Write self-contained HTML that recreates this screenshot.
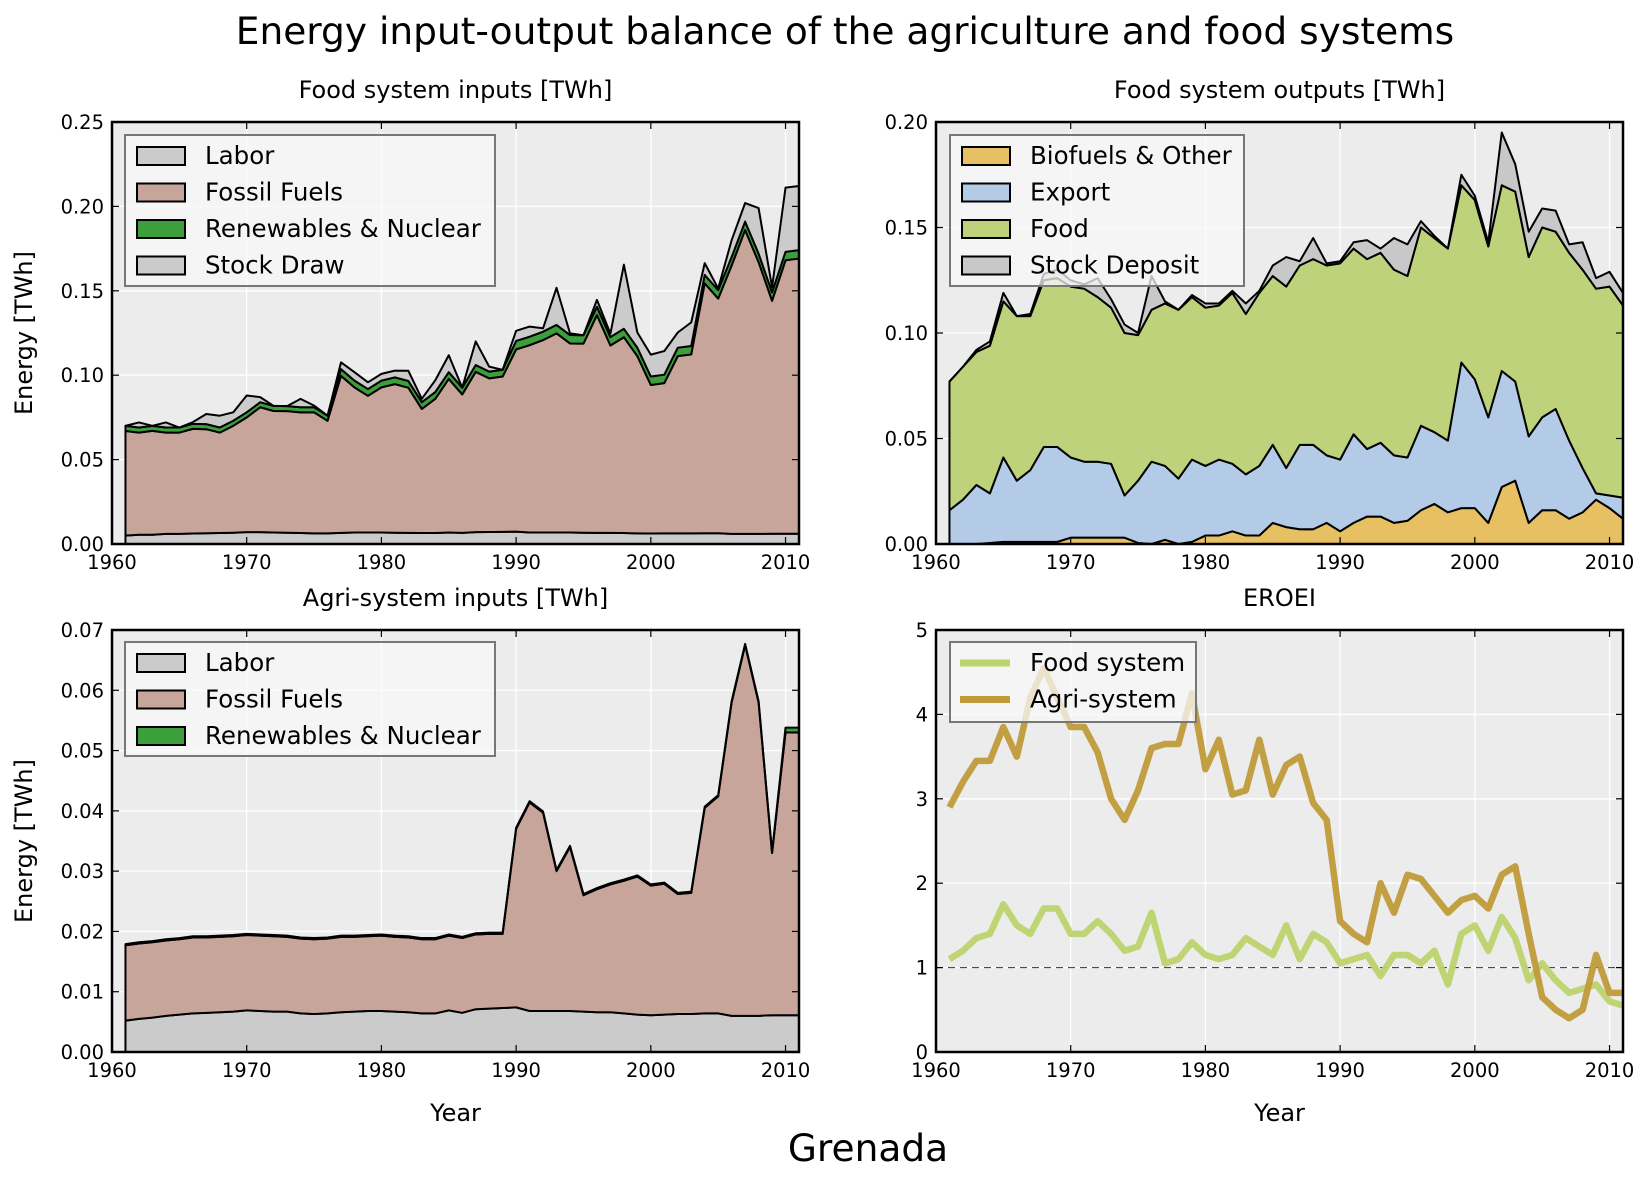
<!DOCTYPE html>
<html><head><meta charset="utf-8"><style>
body{margin:0;background:#fff;font-family:"Liberation Sans","DejaVu Sans",sans-serif}
svg{display:block}
text{font-family:"DejaVu Sans","Liberation Sans",sans-serif}
</style></head><body>
<svg id="c" width="1649" height="1181" viewBox="0 0 1649 1181" xmlns="http://www.w3.org/2000/svg">
<text x="845" y="44" text-anchor="middle" font-size="37.5">Energy input-output balance of the agriculture and food systems</text>
<text x="868" y="1161" text-anchor="middle" font-size="37.5">Grenada</text>
</svg>
<script>
const years=[];for(let y=1961;y<=2011;y++)years.push(y);
// Food system inputs
const fiLabor=[0.005,0.0055,0.0055,0.006,0.006,0.0062,0.0064,0.0065,0.0067,0.007,0.007,0.0068,0.0067,0.0065,0.0063,0.0063,0.0066,0.0068,0.0068,0.0068,0.0067,0.0066,0.0065,0.0065,0.0068,0.0066,0.007,0.0071,0.0072,0.0073,0.0068,0.0068,0.0068,0.0068,0.0067,0.0066,0.0066,0.0065,0.0063,0.0062,0.0063,0.0063,0.0063,0.0064,0.0064,0.006,0.006,0.006,0.0061,0.0061,0.0061];
const fiFossil=[0.062,0.0605,0.0615,0.060,0.060,0.062,0.0616,0.0595,0.0633,0.068,0.074,0.072,0.072,0.0715,0.0717,0.0667,0.093,0.086,0.081,0.086,0.088,0.086,0.0735,0.0795,0.091,0.082,0.095,0.091,0.092,0.108,0.111,0.114,0.118,0.112,0.112,0.129,0.111,0.116,0.105,0.088,0.089,0.105,0.106,0.148,0.139,0.159,0.180,0.161,0.138,0.162,0.163];
const fiRenew=[0.003,0.003,0.003,0.003,0.003,0.003,0.003,0.003,0.003,0.003,0.003,0.003,0.003,0.003,0.003,0.003,0.004,0.004,0.004,0.004,0.004,0.004,0.004,0.004,0.004,0.004,0.004,0.004,0.004,0.005,0.005,0.005,0.005,0.005,0.005,0.005,0.005,0.005,0.005,0.005,0.005,0.005,0.005,0.005,0.005,0.005,0.005,0.005,0.005,0.005,0.005];
const fiStock=[0,0.003,0,0.003,0,0.001,0.006,0.007,0.005,0.010,0.003,0,0,0.005,0.001,0,0.004,0.005,0.004,0.004,0.004,0.006,0.002,0.007,0.010,0,0.014,0.003,0,0.006,0.006,0.002,0.022,0.001,0,0.004,0.002,0.038,0.009,0.013,0.014,0.009,0.014,0.007,0.001,0.010,0.011,0.027,0.003,0.038,0.038];
// Food system outputs
const foBio=[0,0,0,0.0005,0.001,0.001,0.001,0.001,0.001,0.003,0.003,0.003,0.003,0.003,0.0005,0,0.002,0,0.001,0.004,0.004,0.006,0.004,0.004,0.010,0.008,0.007,0.007,0.010,0.006,0.010,0.013,0.013,0.010,0.011,0.016,0.019,0.015,0.017,0.017,0.010,0.027,0.030,0.010,0.016,0.016,0.012,0.015,0.021,0.017,0.012];
const foExport=[0.016,0.021,0.028,0.0235,0.040,0.029,0.034,0.045,0.045,0.038,0.036,0.036,0.035,0.020,0.0295,0.039,0.035,0.031,0.039,0.033,0.036,0.032,0.029,0.033,0.037,0.028,0.040,0.040,0.032,0.034,0.042,0.032,0.035,0.032,0.030,0.040,0.034,0.034,0.069,0.061,0.050,0.055,0.047,0.041,0.044,0.048,0.037,0.021,0.003,0.006,0.010];
const foFood=[0.061,0.063,0.063,0.070,0.074,0.078,0.073,0.079,0.080,0.081,0.082,0.078,0.074,0.077,0.069,0.072,0.077,0.080,0.077,0.075,0.073,0.081,0.076,0.082,0.080,0.086,0.085,0.088,0.090,0.093,0.088,0.090,0.090,0.088,0.086,0.094,0.092,0.091,0.084,0.085,0.081,0.088,0.090,0.085,0.090,0.084,0.089,0.094,0.097,0.099,0.091];
const foStock=[0,0,0.001,0.002,0.004,0,0.001,0.003,0.004,0.003,0.002,0.009,0.004,0.004,0.001,0.016,0.001,0,0.001,0.002,0.001,0.001,0.005,0.001,0.005,0.014,0.002,0.010,0.001,0.001,0.003,0.009,0.002,0.015,0.015,0.003,0.001,0,0.005,0.002,0.002,0.025,0.013,0.012,0.009,0.010,0.004,0.013,0.005,0.007,0.006];
// Agri-system inputs
const aiLabor=[0.0052,0.0055,0.0057,0.006,0.0062,0.0064,0.0065,0.0066,0.0067,0.0069,0.0068,0.0067,0.0067,0.0064,0.0063,0.0064,0.0066,0.0067,0.0068,0.0068,0.0067,0.0066,0.0064,0.0064,0.0069,0.0065,0.0071,0.0072,0.0073,0.0074,0.0068,0.0068,0.0068,0.0068,0.0067,0.0066,0.0066,0.0064,0.0062,0.0061,0.0062,0.0063,0.0063,0.0064,0.0064,0.006,0.006,0.006,0.0061,0.0061,0.0061];
const aiFossil=[0.0125,0.0125,0.0125,0.0125,0.0125,0.0126,0.0125,0.0125,0.0125,0.0125,0.0125,0.0125,0.0124,0.0124,0.0124,0.0124,0.0125,0.0124,0.0124,0.0125,0.0124,0.0124,0.0123,0.0123,0.0124,0.0124,0.0124,0.0124,0.0123,0.0296,0.0346,0.0329,0.0232,0.0272,0.0193,0.0204,0.0212,0.022,0.0229,0.0215,0.0217,0.0199,0.0201,0.0341,0.036,0.052,0.0615,0.052,0.0269,0.0469,0.0469];
const aiRenew=[0.0002,0.0002,0.0002,0.0002,0.0002,0.0002,0.0002,0.0002,0.0002,0.0002,0.0002,0.0002,0.0002,0.0002,0.0002,0.0002,0.0002,0.0002,0.0002,0.0002,0.0002,0.0002,0.0002,0.0002,0.0002,0.0002,0.0002,0.0002,0.0002,0.0002,0.0002,0.0002,0.0002,0.0002,0.0002,0.0002,0.0002,0.0002,0.0002,0.0002,0.0002,0.0002,0.0002,0.0002,0.0002,0.0002,0.0002,0.0002,0.0002,0.0008,0.0008];
// EROEI
const eroeiFood=[1.1,1.2,1.35,1.4,1.75,1.5,1.4,1.7,1.7,1.4,1.4,1.55,1.4,1.2,1.25,1.65,1.05,1.1,1.3,1.15,1.1,1.15,1.35,1.25,1.15,1.5,1.1,1.4,1.3,1.05,1.1,1.15,0.9,1.15,1.15,1.05,1.2,0.8,1.4,1.5,1.2,1.6,1.35,0.85,1.05,0.85,0.7,0.75,0.8,0.6,0.55];
const eroeiAgri=[2.9,3.2,3.45,3.45,3.85,3.5,4.2,4.55,4.2,3.85,3.85,3.55,3.0,2.75,3.1,3.6,3.65,3.65,4.25,3.35,3.7,3.05,3.1,3.7,3.05,3.4,3.5,2.95,2.75,1.55,1.4,1.3,2.0,1.65,2.1,2.05,1.85,1.65,1.8,1.85,1.7,2.1,2.2,1.4,0.65,0.5,0.4,0.5,1.15,0.7,0.7];
const xTicks=[1960,1970,1980,1990,2000,2010];
const tlTicks=[0,0.05,0.10,0.15,0.20,0.25];
const trTicks=[0,0.05,0.10,0.15,0.20];
const blTicks=[0,0.01,0.02,0.03,0.04,0.05,0.06,0.07];
const brTicks=[0,1,2,3,4,5];

const NS='http://www.w3.org/2000/svg';
const svg=document.getElementById('c');
function mk(tag,attrs,parent){const e=document.createElementNS(NS,tag);for(const k in attrs)e.setAttribute(k,attrs[k]);(parent||svg).appendChild(e);return e;}

function panel(key,box,ymax,yticks,ydec,title,ylabel,xlabel){
  const g=mk('g',{});
  
  
  const X=v=>box.x+(v-1960)/(2011-1960)*box.w;
  const Y=v=>box.y+box.h-v/ymax*box.h;
  const bg=mk('rect',{x:box.x,y:box.y,width:box.w,height:box.h,fill:'#ececec'},g);
  
  
  const grid=mk('g',{},g);
  
  
  xTicks.forEach(t=>mk('line',{x1:X(t),x2:X(t),y1:box.y,y2:box.y+box.h,stroke:'#fff','stroke-width':1.3},grid));
  yticks.forEach(t=>mk('line',{x1:box.x,x2:box.x+box.w,y1:Y(t),y2:Y(t),stroke:'#fff','stroke-width':1.3},grid));
  const marks=mk('g',{},g);
  const over=mk('g',{},g);
  const frame=mk('rect',{x:box.x,y:box.y,width:box.w,height:box.h,fill:'none',stroke:'#000','stroke-width':2.5},over);
  
  
  const xa=mk('g',{},over);
  
  
  xTicks.forEach(t=>{
    mk('line',{x1:X(t),x2:X(t),y1:box.y+box.h,y2:box.y+box.h-7,stroke:'#000','stroke-width':1.2},xa);
    mk('line',{x1:X(t),x2:X(t),y1:box.y,y2:box.y+7,stroke:'#000','stroke-width':1.2},xa);
    const tx=mk('text',{x:X(t),y:box.y+box.h+25,'text-anchor':'middle','font-size':19.5},xa);tx.textContent=t;
  });
  const ya=mk('g',{},over);
  
  
  yticks.forEach(t=>{
    mk('line',{x1:box.x,x2:box.x+7,y1:Y(t),y2:Y(t),stroke:'#000','stroke-width':1.2},ya);
    mk('line',{x1:box.x+box.w,x2:box.x+box.w-7,y1:Y(t),y2:Y(t),stroke:'#000','stroke-width':1.2},ya);
    const tx=mk('text',{x:box.x-8,y:Y(t)+7,'text-anchor':'end','font-size':19.5},ya);tx.textContent=t.toFixed(ydec);
  });
  const tt=mk('text',{x:box.x+box.w/2,y:box.y-24,'text-anchor':'middle','font-size':24},g);tt.textContent=title;
  
  
  if(ylabel){const yl=mk('text',{x:0,y:0,'text-anchor':'middle','font-size':24,transform:`translate(32,${box.y+box.h/2}) rotate(-90)`},g);yl.textContent=ylabel;
    
    }
  if(xlabel){const xl=mk('text',{x:box.x+box.w/2,y:box.y+box.h+69,'text-anchor':'middle','font-size':24},g);xl.textContent=xlabel;
    
    }
  return {X,Y,marks,g};
}
function stack(p,series,colors,names){
  const base=years.map(()=>0);
  series.forEach((s,i)=>{
    const top=base.map((b,j)=>b+s[j]);
    let d='M'+years.map((y,j)=>p.X(y)+','+p.Y(top[j])).join(' L');
    d+=' L'+years.slice().reverse().map((y,k)=>{const j=years.length-1-k;return p.X(y)+','+p.Y(base[j]);}).join(' L')+' Z';
    const a=mk('path',{d,fill:colors[i],stroke:'#000','stroke-width':2,'stroke-linejoin':'round'},p.marks);
    
    
    for(let j=0;j<base.length;j++)base[j]=top[j];
  });
}
function legend(p,x,y,w,h,items,type){
  const lg=mk('g',{},p.g);
  
  
  mk('rect',{x,y,width:w,height:h,fill:'#f8f8f8','fill-opacity':0.75,stroke:'#777','stroke-width':2},lg);
  items.forEach((it,i)=>{
    const cy=y+21+i*36.5;
    const e=mk('g',{},lg);
    
    
    if(type==='line')mk('line',{x1:x+10,x2:x+60,y1:cy,y2:cy,stroke:it[1],'stroke-width':7},e);
    else mk('rect',{x:x+12,y:cy-9,width:48,height:18,fill:it[1],stroke:'#000','stroke-width':2},e);
    const t=mk('text',{x:x+80,y:cy+8,'font-size':24.5},e);t.textContent=it[0];
  });
}
const W=687,H=422;
const tl=panel('food-inputs',{x:112,y:122,w:W,h:H},0.25,tlTicks,2,'Food system inputs [TWh]','Energy [TWh]',null);
stack(tl,[fiLabor,fiFossil,fiRenew,fiStock],['#cbcbcb','#c8a59b','#3c9f3c','#cbcbcb'],['labor','fossil-fuels','renewables','stock-draw']);
legend(tl,125,135,370,151,[['Labor','#cbcbcb','labor'],['Fossil Fuels','#c8a59b','fossil-fuels'],['Renewables & Nuclear','#3c9f3c','renewables'],['Stock Draw','#cbcbcb','stock-draw']]);

const tr=panel('food-outputs',{x:936,y:122,w:W,h:H},0.20,trTicks,2,'Food system outputs [TWh]',null,null);
stack(tr,[foBio,foExport,foFood,foStock],['#e8c064','#b4cbe8','#bdd27b','#c8c8c8'],['biofuels','export','food','stock-deposit']);
legend(tr,950,135,294,151,[['Biofuels & Other','#e8c064','biofuels'],['Export','#b4cbe8','export'],['Food','#bdd27b','food'],['Stock Deposit','#c8c8c8','stock-deposit']]);

const bl=panel('agri-inputs',{x:112,y:630,w:W,h:H},0.07,blTicks,2,'Agri-system inputs [TWh]','Energy [TWh]','Year');
stack(bl,[aiLabor,aiFossil,aiRenew],['#cbcbcb','#c8a59b','#3c9f3c'],['labor','fossil-fuels','renewables']);
legend(bl,125,642,370,114,[['Labor','#cbcbcb','labor'],['Fossil Fuels','#c8a59b','fossil-fuels'],['Renewables & Nuclear','#3c9f3c','renewables']]);

const br=panel('eroei',{x:936,y:630,w:W,h:H},5,brTicks,0,'EROEI',null,'Year');
const ref=mk('line',{x1:br.X(1960),x2:br.X(2011),y1:br.Y(1),y2:br.Y(1),stroke:'#333','stroke-width':1,'stroke-dasharray':'7,5'},br.marks);


[[eroeiFood,'#bdd36b','food-system-line'],[eroeiAgri,'#c19b3a','agri-system-line']].forEach(s=>{
  const l=mk('polyline',{points:years.map((y,j)=>br.X(y)+','+br.Y(s[0][j])).join(' '),fill:'none',stroke:s[1],'stroke-width':6.5,'stroke-linejoin':'round','opacity':0.95},br.marks);
  
  
});
legend(br,950,642,246,80,[['Food system','#bdd36b','food-system'],['Agri-system','#c19b3a','agri-system']],'line');
</script>
</body></html>
